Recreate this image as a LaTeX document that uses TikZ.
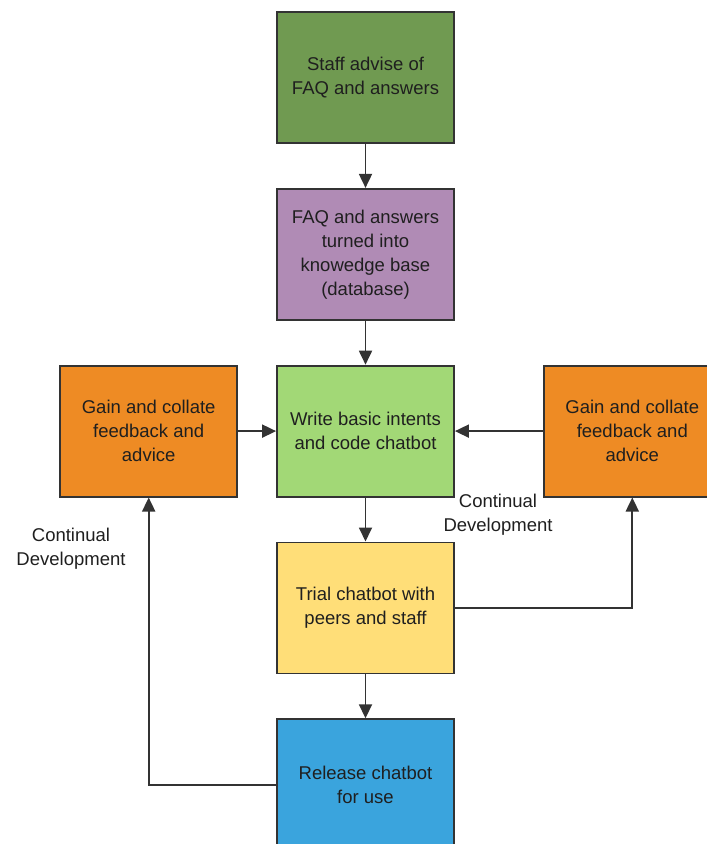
\documentclass[tikz,border=0pt]{standalone}
\usepackage{fontspec}
\setmainfont{Liberation Sans}
\usetikzlibrary{arrows.meta,positioning}
\definecolor{linec}{HTML}{333333}
\definecolor{staffc}{HTML}{709A51}
\definecolor{kbc}{HTML}{B08BB5}
\definecolor{codec}{HTML}{A2D876}
\definecolor{fbc}{HTML}{EE8B24}
\definecolor{trialc}{HTML}{FFDE78}
\definecolor{relc}{HTML}{3AA4DD}
\tikzset{
  stepbox/.style={draw=linec, line width=1.8pt, fill=#1, minimum width=177pt, minimum height=131pt,
               inner sep=0pt, align=center, text=black!88, font=\fontsize{18.5}{24}\selectfont},
  flow/.style={-{Triangle[length=14pt,width=13pt]}, line width=1.8pt, draw=linec},
  devnote/.style={font=\fontsize{18.5}{24}\selectfont, align=center, text=black!88, inner sep=0pt},
}

\begin{document}
\begin{tikzpicture}
  \useasboundingbox (0,0) rectangle (707pt,-844pt);
  % main column
  \node[stepbox=staffc] (staff) at (365.5pt,-77.5pt) {Staff advise of\\FAQ and answers};
  \node[stepbox=kbc, below=44pt of staff] (kb) {FAQ and answers\\turned into\\knowedge base\\(database)};
  \node[stepbox=codec, below=44pt of kb] (code) {Write basic intents\\and code chatbot};
  \node[stepbox=trialc, below=44pt of code] (trial) {Trial chatbot with\\peers and staff};
  \node[stepbox=relc, below=44pt of trial] (release) {Release chatbot\\for use};
  % feedback boxes
  \node[stepbox=fbc, left=38pt of code] (fbleft) {Gain and collate\\feedback and\\advice};
  \node[stepbox=fbc, right=88pt of code] (fbright) {Gain and collate\\feedback and\\advice};
  \node[devnote] (devright) at (498pt,-515pt) {Continual\\Development};
  \node[devnote] (devleft) at (71pt,-548.5pt) {Continual\\Development};
  \draw[flow] (staff) -- (kb);
  \draw[flow] (kb) -- (code);
  \draw[flow] (code) -- (trial);
  \draw[flow] (trial) -- (release);
  \draw[flow] (fbleft) -- (code);
  \draw[flow] (fbright) -- (code);
  \draw[flow] (trial.east) -| (fbright.south);
  \draw[flow] (release.west) -| (fbleft.south);
\end{tikzpicture}
\end{document}
